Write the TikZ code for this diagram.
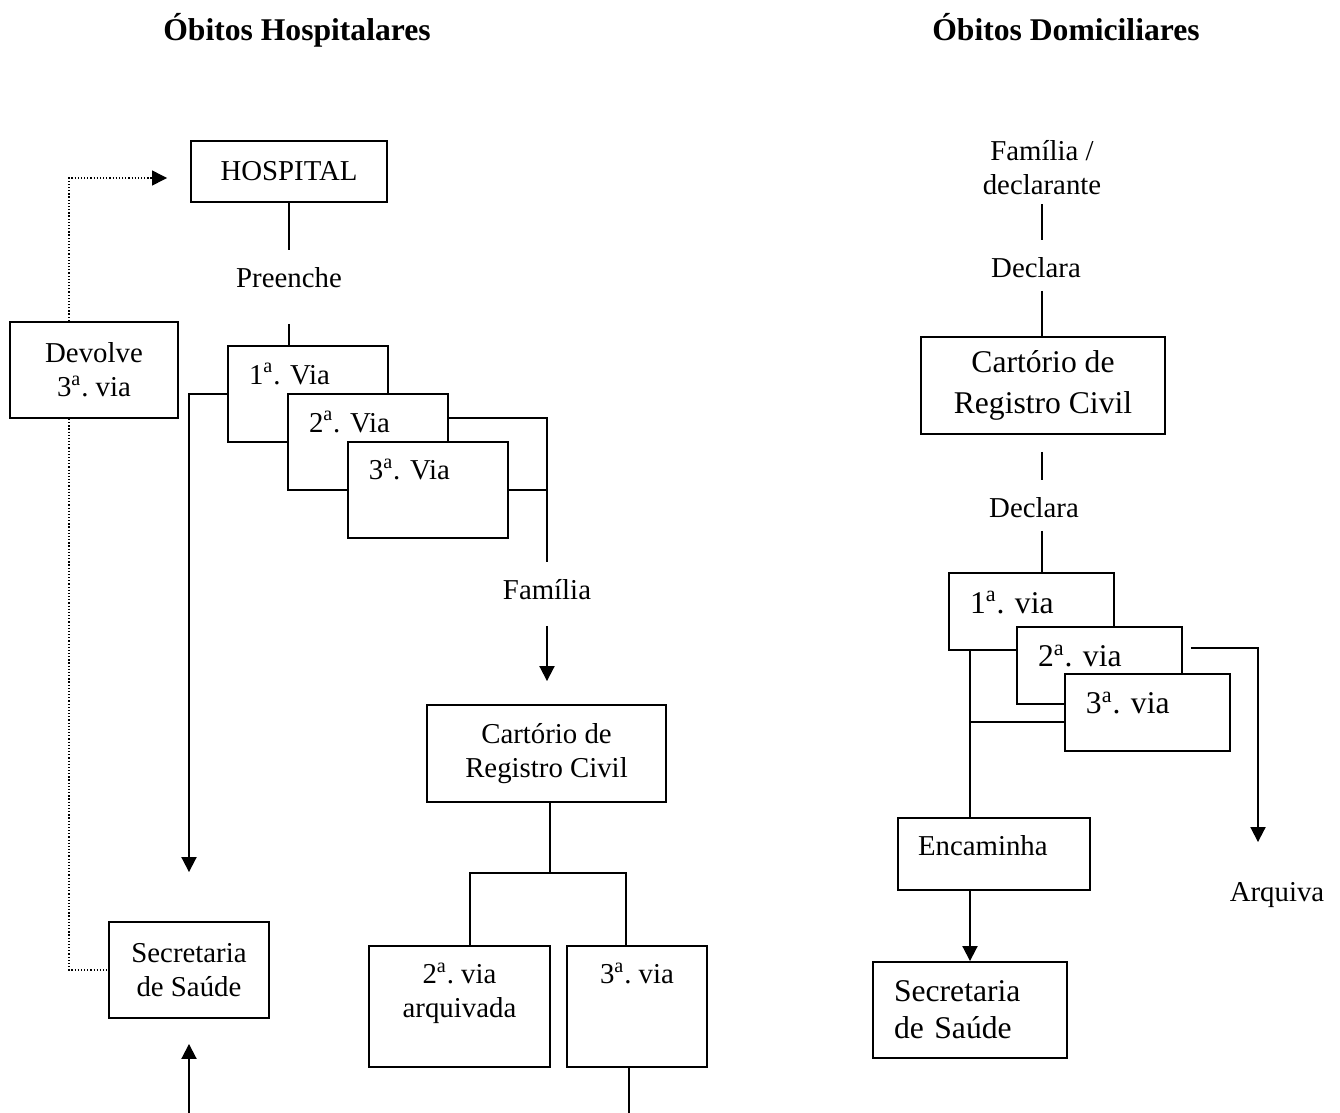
\documentclass[tikz,border=0pt]{standalone}
\usepackage{fontspec}
\setmainfont{Liberation Serif}
\usepackage{tikz}
\usetikzlibrary{positioning, arrows.meta}
\frenchspacing

\begin{document}
\begin{tikzpicture}
	[x=0.02cm, y=-0.02cm, line width=1.1pt, on grid,
	 >={Triangle[length=0.3cm,width=0.3cm]},
	 every node/.style={font=\fontsize{16.4}{19.3}\selectfont},
	 big/.style={font=\fontsize{18}{21}\selectfont},
	 title/.style={font=\fontsize{18}{21}\selectfont\bfseries, anchor=base},
	 box/.style={draw, fill=white, inner sep=0pt, align=center},
	 via/.style={box, align=left, inner xsep=0.42cm, text width=2.36cm,
	   text height=0.76cm, text depth=1.16cm},
	 vid/.style={via, big, text width=2.46cm, text height=0.8cm, text depth=0.74cm},
	 lbl/.style={inner sep=0pt, anchor=base, text height=0.72cm, text depth=#1},
	 dots/.style={line width=0.7pt, dash pattern=on 0.7pt off 1.1pt}]
   \useasboundingbox (0,0) rectangle (1340,1113);

   % hospital deaths
   \node[title] (t_hosp) at (297,40) {Óbitos Hospitalares};
   \node[box, minimum width=3.92cm, minimum height=1.22cm] (hosp) at (289,171.5) {HOSPITAL};
   \node[lbl=0.72cm] (preen) at (289,287) {Preenche};
   \node[via] (h_v1) at (308,394) {1\textsuperscript{a}. Via};
   \node[via] (h_v2) [below right=0.96cm and 1.2cm of h_v1] {2\textsuperscript{a}. Via};
   \node[via] (h_v3) [below right=0.96cm and 1.2cm of h_v2] {3\textsuperscript{a}. Via};
   \node[lbl=0.52cm] (fam) at (547,599) {Família};
   \node[box, minimum width=4.78cm, minimum height=1.94cm] (cart_h) at (546.5,753.5) {Cartório de\\Registro Civil};
   \node[box, inner ysep=0.34cm] (arq_h) at (459.5,1006.5)
     {\parbox[c][1.74cm][t]{3.62cm}{\centering 2\textsuperscript{a}. via\\arquivada}};
   \node[box, minimum width=2.8cm, text height=0.74cm, text depth=1.68cm] (cv3) at (637,1006.5) {3\textsuperscript{a}. via};
   \node[box, minimum width=3.36cm, minimum height=1.92cm] (dev) at (94,370) {Devolve\\3\textsuperscript{a}. via};
   \node[box, minimum width=3.2cm, minimum height=1.92cm] (sec_h) at (189,970) {Secretaria\\de Saúde};
   \coordinate (c_split) at (550,873);
   \coordinate (h_in) at (189,1113);
   \coordinate (h_out) at (629,1113);

   \draw (hosp) -- (preen);
   \draw (preen.south) -- (preen.south |- h_v1.north);
   \draw ([yshift=0.48cm]h_v2.east) -| (fam.north);
   \draw (h_v3.east) -- (h_v3.east -| fam.north);
   \draw[->, shorten >=0.46cm] (fam.south) -- (fam.south |- cart_h.north);
   \draw (cart_h.south -| c_split) -- (c_split);
   \draw ([xshift=0.21cm]arq_h.north) |- (c_split) -| ([xshift=-0.22cm]cv3.north);
   \draw (h_out |- cv3.south) -- (h_out);
   \draw[->, shorten >=0.98cm] (h_v1.west) -| (sec_h.north);
   \draw[->, shorten >=0.5cm] (h_in) -- (sec_h.south);
   \draw[dots, ->, shorten >=0.46cm] ([xshift=-0.5cm]dev.north) |- ([yshift=-0.13cm]hosp.west);
   \draw[dots] ([xshift=-0.5cm]dev.south) |- (sec_h.west);

   % home deaths
   \node[title] (t_dom) at (1066,40) {Óbitos Domiciliares};
   \node[inner sep=0pt, align=center] (famd) at (1042,168) {Família /\\declarante};
   \node[lbl=0.26cm] (decl1) at (1036,277) {Declara};
   \node[box, big, minimum width=4.88cm, minimum height=1.94cm] (cart_d) at (1043,385.5) {Cartório de\\[2pt]Registro Civil};
   \node[lbl=0.26cm] (decl2) at (1034,517) {Declara};
   \node[vid] (d_v1) at (1031.5,611.5) {1\textsuperscript{a}. via};
   \node[vid] (d_v2) [below right=1.08cm and 1.36cm of d_v1] {2\textsuperscript{a}. via};
   \node[vid] (d_v3) [below right=0.94cm and 0.96cm of d_v2] {3\textsuperscript{a}. via};
   \node[box, align=left, inner xsep=0.4cm, text width=3.04cm, text height=0.74cm, text depth=0.7cm] (enc) at (994,854) {Encaminha};
   \node[box, big, align=left, inner xsep=0.42cm, text width=3.04cm, minimum height=1.92cm] (sec_d) at (970,1010) {Secretaria\\de Saúde};
   \node[lbl=0.3cm] (arqv) at (1277,901) {Arquiva};
   \coordinate (d_join) at ([yshift=-0.19cm]d_v3.west);

   \draw[shorten <=0.16cm] (famd.south) -- (famd.south |- decl1.north);
   \draw (decl1.south -| famd.south) -- (famd.south |- cart_d.north);
   \draw[shorten <=0.34cm] (famd.south |- cart_d.south) -- (famd.south |- decl2.north);
   \draw (decl2.south -| famd.south) -- (famd.south |- d_v1.north);
   \draw[->, shorten <=0.16cm, shorten >=0.44cm] ([yshift=0.35cm]d_v2.east) -| ([xshift=-0.38cm]arqv.north);
   \draw (d_v1.south -| sec_d.north) -- (enc.north -| sec_d.north);
   \draw (d_join) -- (d_join -| sec_d.north);
   \draw[->] (enc.south -| sec_d.north) -- (sec_d.north);
\end{tikzpicture}
\end{document}
